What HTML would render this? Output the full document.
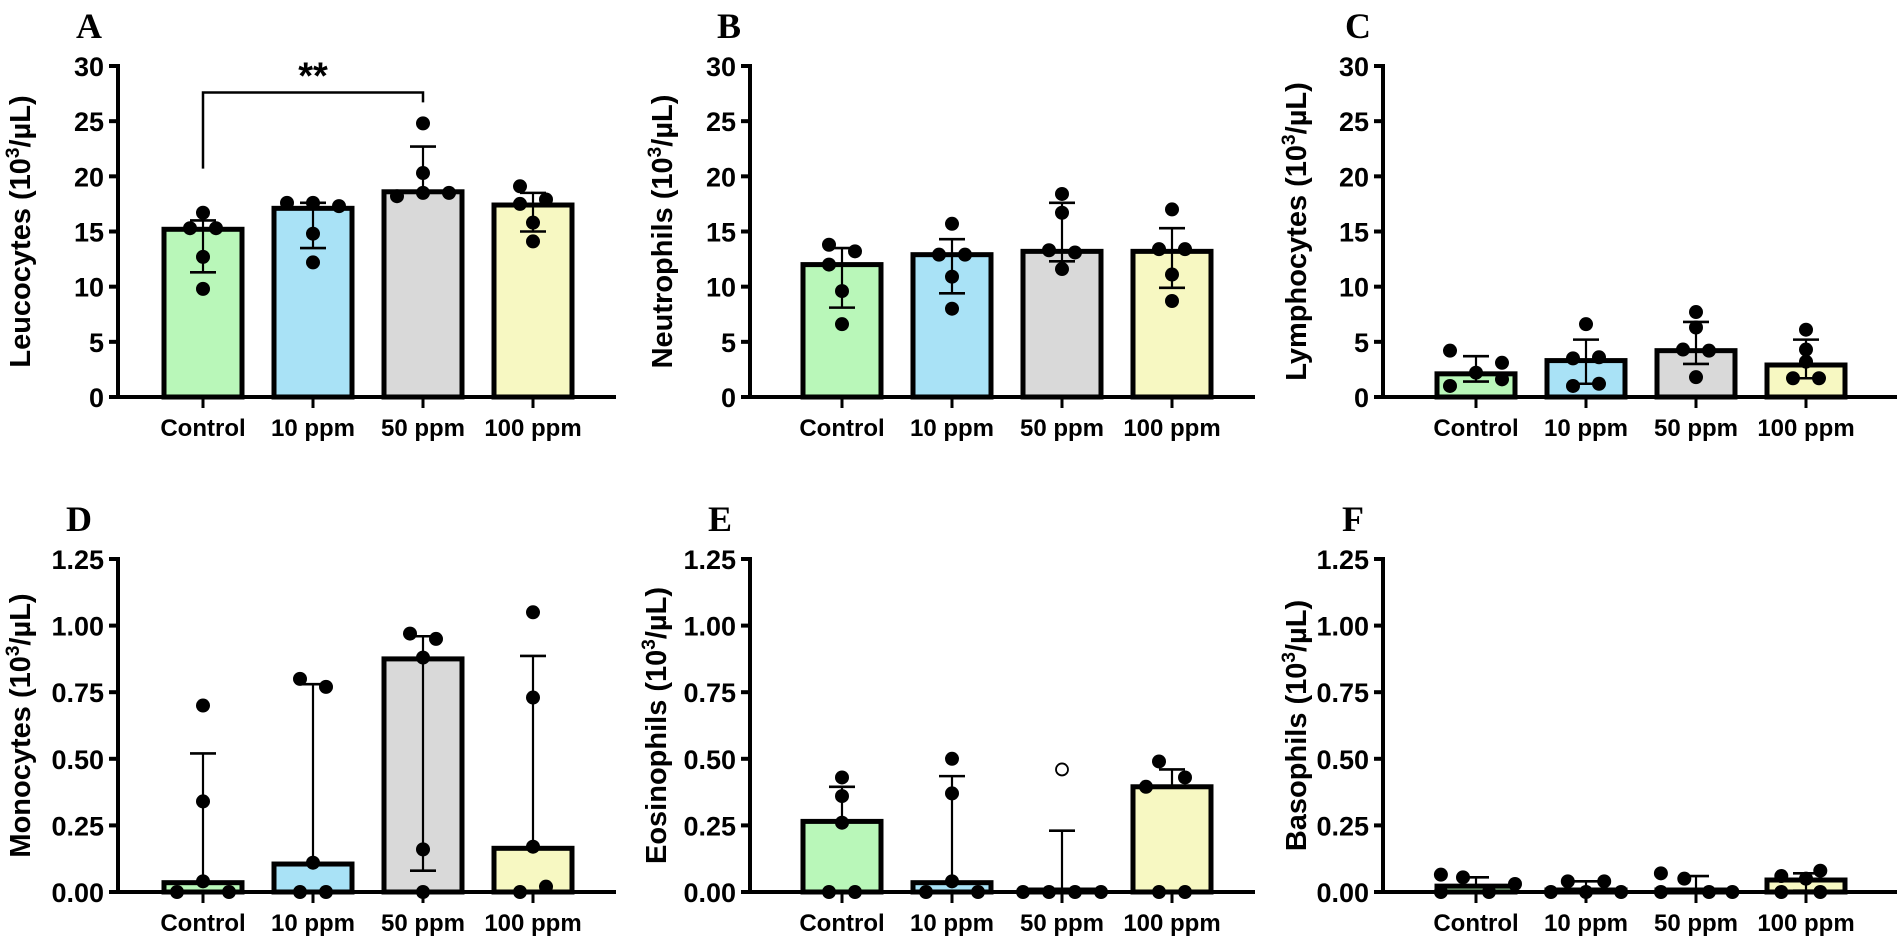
<!DOCTYPE html>
<html><head><meta charset="utf-8"><style>
html,body{margin:0;padding:0;background:#fff;}
svg{display:block;font-family:"Liberation Sans",Arial,sans-serif;}
</style></head><body>
<svg id="fig" width="1901" height="943" viewBox="0 0 1901 943" xmlns="http://www.w3.org/2000/svg"></svg>
<script>
const categories = ["Control","10 ppm","50 ppm","100 ppm"];
const fills = ["#b9f7b9","#a9e2f6","#d9d9d9","#f7f8c2"];

// Panel A Leucocytes
const leuMeans = [15.2,17.1,18.6,17.4];
const leuErrLow = [11.3,13.5,null,15.0];
const leuErrHigh = [16.0,17.6,22.7,18.5];
const leuPoints = [[16.7,15.3,15.3,12.7,9.8],[17.6,17.6,17.3,14.8,12.2],[24.8,20.3,18.5,18.2,18.5],[19.1,17.5,17.9,15.8,14.1]];
// Panel B Neutrophils
const neuMeans = [12.0,12.9,13.2,13.2];
const neuErrLow = [8.1,9.4,12.3,9.9];
const neuErrHigh = [13.5,14.3,17.6,15.3];
const neuPoints = [[13.8,13.2,12.0,9.6,6.6],[15.7,12.9,12.9,10.9,8.0],[18.4,16.7,13.3,13.1,11.6],[17.0,13.4,13.4,11.1,8.7]];
// Panel C Lymphocytes
const lymMeans = [2.1,3.3,4.2,2.9];
const lymErrLow = [1.4,1.2,3.0,1.7];
const lymErrHigh = [3.7,5.2,6.8,5.2];
const lymPoints = [[4.2,2.2,3.1,1.6,1.0],[6.6,3.5,3.6,1.0,1.2],[7.7,6.3,4.3,4.2,1.8],[6.1,4.3,3.2,1.7,1.7]];
// Panel D Monocytes
const monMeans = [0.035,0.105,0.875,0.164];
const monErrLow = [null,null,0.08,null];
const monErrHigh = [0.52,0.78,0.96,0.886];
const monPoints = [[0.70,0.34,0.04,0,0],[0.80,0.77,0.11,0,0],[0.97,0.95,0.88,0.16,0],[1.05,0.73,0.17,0.02,0]];
// Panel E Eosinophils
const eosMeans = [0.265,0.035,0,0.395];
const eosErrLow = [null,null,null,null];
const eosErrHigh = [0.395,0.435,0.23,0.46];
const eosPoints = [[0.43,0.36,0.26,0,0],[0.50,0.37,0.04,0,0],[0,0,0,0],[0.49,0.395,0.43,0,0]];
const eosOutliers = [[],[],[0.46],[]];
// Panel F Basophils
const basMeans = [0.022,0,0,0.045];
const basErrLow = [null,null,null,0.005];
const basErrHigh = [0.055,0.04,0.06,0.07];
const basPoints = [[0.065,0.055,0.03,0,0],[0.04,0.04,0,0,0],[0.07,0.05,0,0,0],[0.08,0.06,0.05,0,0]];

const topTicks = [0,5,10,15,20,25,30];
const topTickLabels = ["0","5","10","15","20","25","30"];
const botTicks = [0,0.25,0.5,0.75,1.0,1.25];
const botTickLabels = ["0.00","0.25","0.50","0.75","1.00","1.25"];

// layout (not data): jitter columns in 13px units
const jit = {
  A:[[0,-1,1,0,0],[-2,0,2,0,0],[0,0,0,-2,2],[-1,-1,1,0,0]],
  B:[[-1,1,-1,0,0],[0,-1,1,0,0],[0,0,-1,1,0],[0,-1,1,0,0]],
  C:[[-2,0,2,2,-2],[0,-1,1,-1,1],[0,0,-1,1,0],[0,0,0,-1,1]],
  D:[[0,0,0,-2,2],[-1,1,0,-1,1],[-1,1,0,0,0],[0,0,0,1,-1]],
  E:[[0,0,0,-1,1],[0,0,0,-2,2],[-3,-1,1,3],[-1,-2,1,-1,1]],
  F:[[-2.7,-1,3,-2.7,1],[-1.4,1.4,-2.7,0,2.7],[-2.7,-0.9,-2.7,1,2.8],[1.1,-1.9,0,-1.9,1.1]]
};

const NS="http://www.w3.org/2000/svg";
const svgRoot=document.getElementById('fig');
function mk(tag,attrs,parent){const e=document.createElementNS(NS,tag);for(const k in attrs)e.setAttribute(k,attrs[k]);(parent||svgRoot).appendChild(e);return e;}

function panel(cfg){
  const g=mk('g',{});
  
  
  const y=v=>cfg.y0-(v-cfg.min)/(cfg.max-cfg.min)*(cfg.y0-cfg.yTop);
  const x=i=>cfg.x0+i*110;
  const L=mk('text',{x:cfg.lx,y:cfg.ly,'font-family':'"Liberation Serif",serif','font-weight':'bold','font-size':36},g);
  L.textContent=cfg.letter;
  
  
  const T=mk('text',{transform:`translate(${cfg.tx},${(cfg.y0+cfg.yTop)/2}) rotate(-90)`,'text-anchor':'middle','font-weight':'bold','font-size':29},g);
  T.innerHTML=cfg.title+' (10<tspan dy="-11" font-size="19">3</tspan><tspan dy="11">/µL)</tspan>';
  
  
  cfg.means.forEach((m,i)=>{
    const tp=y(m);
    const r=mk('rect',{x:x(i)-39,y:Math.min(tp,cfg.y0-2),width:78,height:Math.max(cfg.y0-tp,2),fill:fills[i],stroke:'#000','stroke-width':5},g);
    
    
  });
  const ax=mk('g',{},g);
  
  
  mk('line',{x1:cfg.ax,x2:cfg.ax,y1:cfg.yTop-2,y2:cfg.y0,stroke:'#000','stroke-width':4},ax);
  cfg.ticks.forEach((t,i)=>{
    mk('line',{x1:cfg.ax-9,x2:cfg.ax,y1:y(t),y2:y(t),stroke:'#000','stroke-width':4},ax);
    const tl=mk('text',{x:cfg.ax-14,y:y(t)+10,'text-anchor':'end','font-weight':'bold','font-size':27},ax);
    tl.textContent=cfg.tickLabels[i];
    
    
  });
  cfg.means.forEach((m,i)=>{
    const hi=cfg.errHigh[i], lo=cfg.errLow[i];
    if(hi!=null){mk('line',{x1:x(i),x2:x(i),y1:y(m),y2:y(hi),stroke:'#000','stroke-width':2.2},g);
      mk('line',{x1:x(i)-13,x2:x(i)+13,y1:y(hi),y2:y(hi),stroke:'#000','stroke-width':2.6},g);}
    if(lo!=null){mk('line',{x1:x(i),x2:x(i),y1:y(m),y2:y(lo),stroke:'#000','stroke-width':2.2},g);
      mk('line',{x1:x(i)-13,x2:x(i)+13,y1:y(lo),y2:y(lo),stroke:'#000','stroke-width':2.6},g);}
  });
  const xa=mk('g',{},g);
  
  
  mk('line',{x1:cfg.ax,x2:cfg.xEnd,y1:cfg.y0,y2:cfg.y0,stroke:'#000','stroke-width':4},xa);
  categories.forEach((c,i)=>{
    mk('line',{x1:x(i),x2:x(i),y1:cfg.y0,y2:cfg.y0+11,stroke:'#000','stroke-width':3},xa);
    const t=mk('text',{x:x(i),y:cfg.y0+39,'text-anchor':'middle','font-weight':'bold','font-size':24},xa);
    t.textContent=c;
    
    
  });
  cfg.points.forEach((arr,i)=>{arr.forEach((v,j)=>{
    const c=mk('circle',{cx:x(i)+cfg.jit[i][j]*13,cy:y(v),r:7,fill:'#000'},g);
    
    
  });});
  if(cfg.outliers){cfg.outliers.forEach((arr,i)=>{arr.forEach(v=>{
    const c=mk('circle',{cx:x(i),cy:y(v),r:6,fill:'#fff',stroke:'#000','stroke-width':1.8},g);
    
    
  });});}
  return {x,y};
}

const topCfg={y0:397,yTop:66,min:0,max:30,ticks:topTicks,tickLabels:topTickLabels};
const botCfg={y0:892,yTop:559,min:0,max:1.25,ticks:botTicks,tickLabels:botTickLabels};
const pA=panel(Object.assign({},topCfg,{letter:'A',lx:76,ly:38,tx:30,title:'Leucocytes',ax:118,x0:203,xEnd:616,means:leuMeans,errLow:leuErrLow,errHigh:leuErrHigh,points:leuPoints,jit:jit.A}));
panel(Object.assign({},topCfg,{letter:'B',lx:717,ly:38,tx:672,title:'Neutrophils',ax:750,x0:842,xEnd:1255,means:neuMeans,errLow:neuErrLow,errHigh:neuErrHigh,points:neuPoints,jit:jit.B}));
panel(Object.assign({},topCfg,{letter:'C',lx:1345,ly:38,tx:1306,title:'Lymphocytes',ax:1383,x0:1476,xEnd:1897,means:lymMeans,errLow:lymErrLow,errHigh:lymErrHigh,points:lymPoints,jit:jit.C}));
panel(Object.assign({},botCfg,{letter:'D',lx:66,ly:531,tx:30,title:'Monocytes',ax:118,x0:203,xEnd:616,means:monMeans,errLow:monErrLow,errHigh:monErrHigh,points:monPoints,jit:jit.D}));
panel(Object.assign({},botCfg,{letter:'E',lx:708,ly:531,tx:666,title:'Eosinophils',ax:750,x0:842,xEnd:1255,means:eosMeans,errLow:eosErrLow,errHigh:eosErrHigh,points:eosPoints,outliers:eosOutliers,jit:jit.E}));
panel(Object.assign({},botCfg,{letter:'F',lx:1342,ly:531,tx:1306,title:'Basophils',ax:1383,x0:1476,xEnd:1897,means:basMeans,errLow:basErrLow,errHigh:basErrHigh,points:basPoints,jit:jit.F}));

const sigFrom=0, sigTo=2, sigLevel=27.6, sigLeftEnd=20.7, sigRightEnd=26.7;
const br=mk('path',{d:`M${pA.x(sigFrom)},${pA.y(sigLeftEnd)} V${pA.y(sigLevel)} H${pA.x(sigTo)} V${pA.y(sigRightEnd)}`,fill:'none',stroke:'#000','stroke-width':2.5});


const st=mk('text',{x:(pA.x(sigFrom)+pA.x(sigTo))/2,y:pA.y(sigLevel)-4,'text-anchor':'middle','font-weight':'bold','font-size':38});
st.textContent='**';


</script>
</body></html>
